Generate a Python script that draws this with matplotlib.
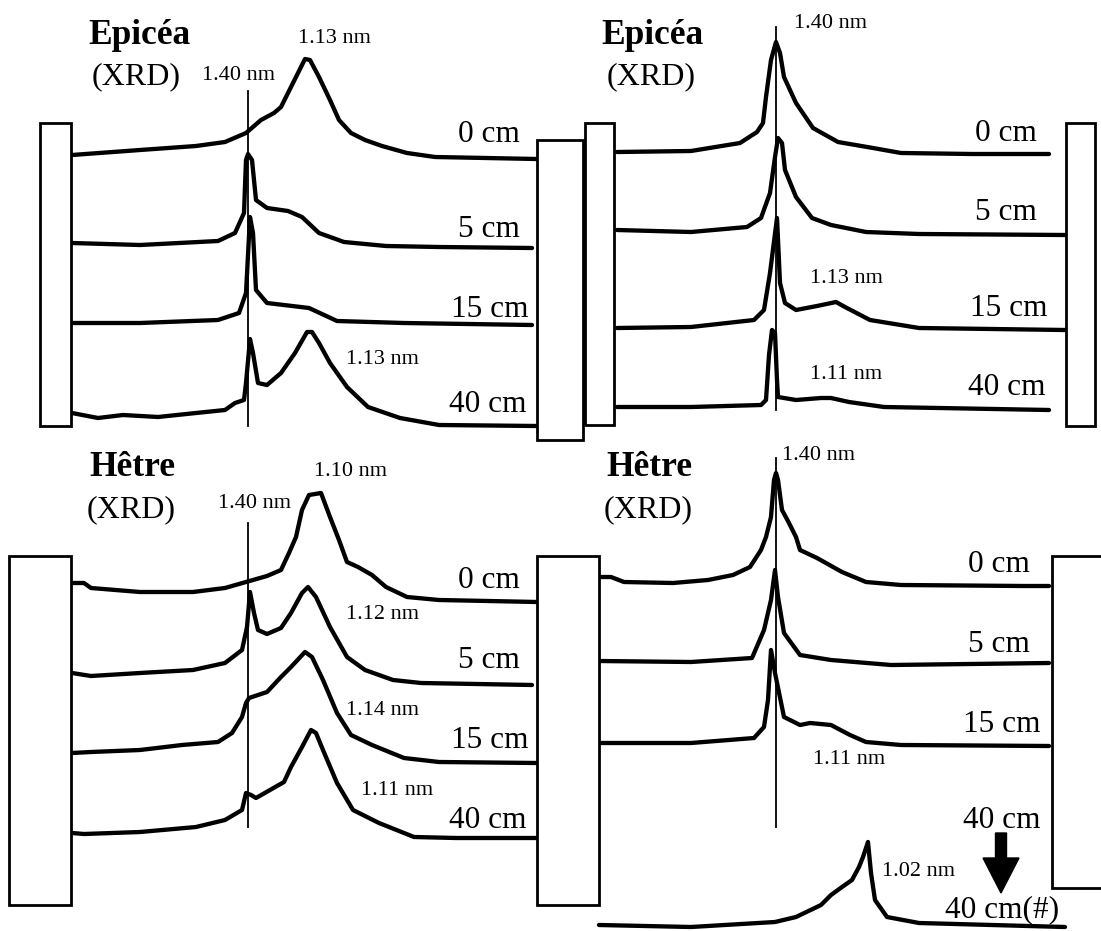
import matplotlib
matplotlib.use("Agg")
import matplotlib.pyplot as plt
from matplotlib.patches import Rectangle, FancyArrow

# ---------------- data (figure pixel units) ----------------
# Panel A : Epicéa, left
ea0_x = [72, 140, 196, 225, 246, 261, 274, 281, 291, 305, 310, 319, 330, 339, 351, 365, 382, 407, 435, 537]
ea0_y = [155, 150, 146, 142, 133, 120, 113, 107, 87, 59, 60, 77, 100, 120, 133, 140, 146, 153, 157, 159]
ea5_x = [72, 140, 218, 235, 244, 246, 248, 252, 256, 267, 288, 302, 319, 344, 386, 439, 532]
ea5_y = [243, 245, 241, 233, 213, 160, 154, 160, 200, 208, 211, 217, 233, 242, 246, 247, 248]
ea15_x = [72, 140, 218, 239, 246, 250, 253, 256, 267, 309, 337, 404, 532]
ea15_y = [323, 323, 320, 313, 293, 217, 233, 290, 303, 308, 321, 323, 325]
ea40_x = [72, 98, 123, 158, 196, 225, 235, 244, 246, 250, 253, 258, 267, 281, 295, 307, 312, 319, 330, 347, 368, 400, 439, 537]
ea40_y = [413, 418, 415, 417, 413, 410, 403, 400, 383, 339, 353, 383, 385, 373, 353, 332, 332, 343, 363, 387, 407, 418, 425, 426]

# Panel B : Epicéa, right
eb0_x = [617, 691, 740, 757, 763, 766, 771, 776, 780, 784, 796, 813, 838, 873, 901, 972, 1049]
eb0_y = [152, 151, 143, 132, 123, 97, 60, 42, 53, 77, 103, 128, 142, 148, 153, 154, 154]
eb5_x = [617, 691, 747, 761, 770, 775, 778, 782, 785, 796, 812, 831, 866, 919, 1065]
eb5_y = [230, 232, 227, 218, 193, 157, 138, 143, 170, 197, 218, 225, 232, 234, 235]
eb15_x = [617, 691, 754, 764, 770, 777, 780, 785, 796, 817, 836, 845, 870, 919, 1065]
eb15_y = [328, 327, 320, 310, 273, 218, 283, 303, 310, 306, 302, 307, 320, 328, 330]
eb40_x = [617, 691, 761, 766, 769, 772, 775, 777, 778, 796, 821, 831, 849, 884, 1049]
eb40_y = [407, 407, 405, 400, 355, 330, 333, 380, 397, 400, 398, 398, 402, 407, 410]

# Panel C : Hêtre, left
hc0_x = [72, 84, 91, 140, 193, 225, 246, 267, 281, 289, 296, 302, 309, 321, 330, 339, 347, 358, 372, 386, 407, 439, 537]
hc0_y = [583, 583, 588, 592, 592, 588, 582, 576, 570, 553, 537, 510, 495, 493, 517, 540, 562, 567, 575, 587, 597, 600, 602]
hc5_x = [72, 91, 140, 193, 225, 242, 247, 250, 254, 258, 267, 281, 291, 302, 308, 316, 330, 347, 365, 393, 421, 532]
hc5_y = [673, 676, 673, 670, 663, 650, 627, 592, 613, 630, 634, 628, 613, 593, 587, 597, 627, 657, 670, 680, 683, 685]
hc15_x = [72, 91, 140, 182, 218, 232, 242, 246, 249, 267, 281, 291, 305, 312, 323, 337, 351, 372, 404, 439, 537]
hc15_y = [753, 752, 750, 745, 742, 733, 717, 703, 698, 692, 677, 667, 652, 657, 680, 713, 735, 745, 758, 762, 763]
hc40_x = [72, 84, 140, 196, 225, 242, 246, 251, 256, 270, 284, 291, 302, 311, 316, 323, 337, 353, 379, 414, 456, 537]
hc40_y = [833, 834, 832, 827, 820, 810, 793, 795, 798, 790, 782, 767, 747, 730, 733, 750, 783, 810, 823, 837, 838, 838]

# Panel D : Hêtre, right
hd0_x = [599, 611, 624, 673, 708, 733, 750, 761, 766, 771, 774, 776, 778, 782, 789, 796, 800, 817, 842, 866, 901, 1024, 1049]
hd0_y = [577, 577, 582, 583, 580, 575, 567, 550, 537, 517, 480, 473, 480, 510, 523, 537, 550, 558, 572, 582, 585, 586, 586]
hd5_x = [599, 691, 752, 764, 771, 775, 778, 784, 800, 831, 891, 1049]
hd5_y = [661, 662, 658, 630, 600, 570, 597, 633, 655, 660, 665, 663]
hd15_x = [599, 691, 754, 764, 768, 771, 775, 784, 800, 810, 831, 850, 866, 901, 1049]
hd15_y = [743, 743, 738, 727, 700, 650, 673, 717, 725, 723, 725, 735, 742, 745, 746]
hd40s_x = [599, 691, 775, 796, 821, 831, 842, 852, 859, 863, 868, 871, 875, 887, 919, 1065]
hd40s_y = [925, 927, 922, 917, 905, 895, 887, 880, 867, 857, 842, 873, 900, 917, 923, 927]

depth_labels = ["0 cm", "5 cm", "15 cm", "40 cm"]

# ---------------- figure ----------------
fig = plt.figure(figsize=(11.01, 9.31), dpi=100)
ax = fig.add_axes([0, 0, 1, 1])
ax.set_xlim(0, 1101)
ax.set_ylim(931, 0)
ax.axis("off")

LW = 3.1
def trace(x, y):
    ax.plot(x, y, color="black", lw=LW, solid_joinstyle="round",
            solid_capstyle="round", zorder=3)

for xs, ys in [(ea0_x, ea0_y), (ea5_x, ea5_y), (ea15_x, ea15_y), (ea40_x, ea40_y),
               (eb0_x, eb0_y), (eb5_x, eb5_y), (eb15_x, eb15_y), (eb40_x, eb40_y),
               (hc0_x, hc0_y), (hc5_x, hc5_y), (hc15_x, hc15_y), (hc40_x, hc40_y),
               (hd0_x, hd0_y), (hd5_x, hd5_y), (hd15_x, hd15_y), (hd40s_x, hd40s_y)]:
    trace(xs, ys)

# reference lines at 1.40 nm
for x0, y0, y1 in [(248, 91, 426), (776, 27, 410), (248, 523, 827), (776, 458, 827)]:
    ax.plot([x0, x0], [y0, y1], color="black", lw=1.3, zorder=2)

# side boxes
for (x0, y0, x1, y1) in [(40, 123, 71, 426), (537, 140, 583, 440), (585, 123, 614, 425),
                         (1066, 123, 1095, 426),
                         (9, 556, 71, 905), (537, 556, 599, 905), (1052, 556, 1104, 888)]:
    ax.add_patch(Rectangle((x0, y0), x1 - x0, y1 - y0, facecolor="white",
                           edgecolor="black", lw=2.0, zorder=4))

serif = ["Liberation Serif", "DejaVu Serif"]
def txt(x, y, s, size, bold=False):
    ax.text(x, y, s, fontsize=size, family=serif, fontweight="bold" if bold else "normal",
            ha="left", va="baseline", zorder=5)

# titles
txt(88, 44, "Epicéa", 25.5, True); txt(92, 84, "(XRD)", 23)
txt(601, 44, "Epicéa", 25.5, True); txt(607, 84, "(XRD)", 23)
txt(89, 476, "Hêtre", 25.5, True); txt(87, 517, "(XRD)", 23)
txt(606, 476, "Hêtre", 25.5, True); txt(604, 517, "(XRD)", 23)

# depth labels
for (x, y), s in zip([(458, 142), (458, 237), (451, 317), (449, 412)], depth_labels):
    txt(x, y, s, 22.5)
for (x, y), s in zip([(975, 141), (975, 220), (970, 316), (968, 395)], depth_labels):
    txt(x, y, s, 22.5)
for (x, y), s in zip([(458, 588), (458, 668), (451, 748), (449, 828)], depth_labels):
    txt(x, y, s, 22.5)
for (x, y), s in zip([(968, 572), (968, 652), (963, 732), (963, 828)], depth_labels):
    txt(x, y, s, 22.5)
txt(945, 917, "40 cm(#)", 22.5)

# peak annotations
for x, y, s in [(202, 80, "1.40 nm"), (298, 43, "1.13 nm"), (346, 364, "1.13 nm"),
                (794, 28, "1.40 nm"), (810, 283, "1.13 nm"), (810, 379, "1.11 nm"),
                (218, 508, "1.40 nm"), (314, 476, "1.10 nm"), (346, 619, "1.12 nm"),
                (346, 715, "1.14 nm"), (361, 795, "1.11 nm"),
                (782, 460, "1.40 nm"), (813, 764, "1.11 nm"), (882, 876, "1.02 nm")]:
    txt(x, y, s, 16)

# arrow
ax.add_patch(FancyArrow(1001, 833, 0, 60, width=11, head_width=36, head_length=35,
                        length_includes_head=True, color="black", zorder=5))

fig.savefig("out.png", dpi=100)
